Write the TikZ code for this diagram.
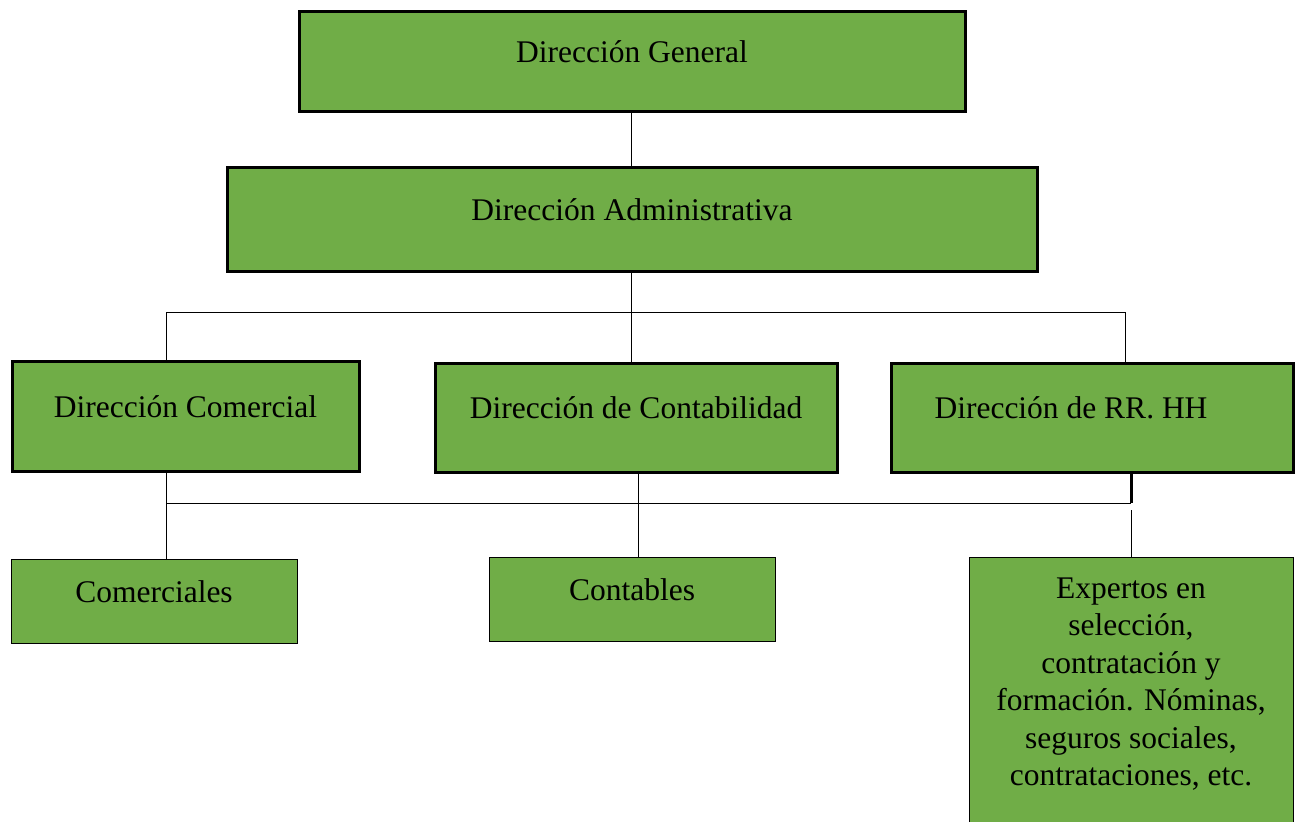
\documentclass[tikz,border=0pt]{standalone}
\usepackage{fontspec}
\setmainfont{Liberation Serif}
\definecolor{boxgreen}{HTML}{70AD47}

\begin{document}
\begin{tikzpicture}
[
    x=0.5pt, y=-0.5pt,
    every node/.style={font=\fontsize{15.75}{18.5}\selectfont},
    head/.style={draw, line width=1.5pt, fill=boxgreen, text height=11pt, text depth=10pt},
    staff/.style={draw, line width=0.5pt, fill=boxgreen, text height=11pt, text depth=10pt},
    link/.style={line width=0.5pt},
]
\useasboundingbox (0,0) rectangle (1296,821);
\clip (0,0) rectangle (1296,821);

\node [head, minimum width=333pt, minimum height=50pt] (gen) at (632,61) {Dirección General};
\node [head, minimum width=405pt, minimum height=52pt] (adm) at (632,219) {Dirección Administrativa};

\node [head, minimum width=173.5pt, minimum height=55pt] (com) at (185.5,416) {Dirección Comercial};
\node [head, minimum width=201pt, minimum height=54.5pt] (cont) at (636,417.5) {Dirección de Contabilidad};
\node [head, minimum width=201pt, minimum height=54.5pt] (rrhh) at (1092,417.5) {Dirección de RR. HH\hspace*{21pt}};

\node [staff, minimum width=143pt, minimum height=42pt] (comer) at (154,601) {Comerciales};
\node [staff, minimum width=143pt, minimum height=42pt] (contab) at (632,599) {Contables};
\node [draw, line width=0.5pt, fill=boxgreen, anchor=north, minimum width=162pt,
       inner ysep=10pt, align=center, font=\fontsize{15.75}{18.75}\selectfont] (exp) at (1131,557)
{Expertos en\\ selección,\\ contratación y\\ formación. Nóminas,\\ seguros sociales,\\
 contrataciones, etc.\rule[-14pt]{0pt}{14pt}};

\coordinate (bL) at (166,312);
\coordinate (bM) at (631,312);
\coordinate (bR) at (1125,312);
\coordinate (cL) at (166,503);
\coordinate (cM) at (638,503);
\coordinate (cR) at (1131,503);
\coordinate (cR2) at (1131,510);

\draw [link] (gen.south -| bM) -- (adm.north -| bM);
\draw [link] (adm.south -| bM) -- (cont.north -| bM);
\draw [link] (com.north -| bL) |- (bR) -- (rrhh.north -| bR);

\draw [link] (com.south -| cL) -- (comer.north -| cL);
\draw [link] (cL) -- (cR);
\draw [link] (cont.south -| cM) -- (contab.north -| cM);
\draw [line width=1.5pt] (rrhh.south -| cR) -- (cR);
\draw [link] (cR2) -- (exp.north -| cR2);
\end{tikzpicture}
\end{document}
